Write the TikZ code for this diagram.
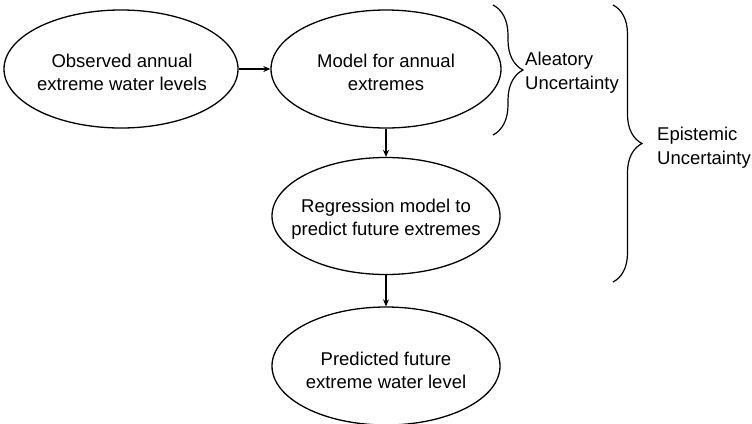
\documentclass[tikz,border=0pt]{standalone}
\usepackage{fontspec}
\setmainfont{Liberation Sans}
\usetikzlibrary{shapes.geometric,arrows.meta,decorations.pathreplacing}
\begin{document}
\begin{tikzpicture}[x=1bp,y=-1bp,
  oval/.style={ellipse,draw,line width=1.3bp,inner sep=0pt},
  txt/.style={inner sep=0pt,align=center,font=\fontsize{18.5bp}{23bp}\selectfont},
  conn/.style={line width=1.3bp,-{Stealth[length=7bp,width=6bp]}},
  lbl/.style={inner sep=0pt,align=left,anchor=west,font=\fontsize{18.5bp}{24bp}\selectfont},
  brc/.style={line width=1.2bp,decorate,decoration={brace,amplitude=#1}}]
\useasboundingbox (0,0) rectangle (752,423);
\clip (0,0) rectangle (752,423);
\fill[white] (0,0) rectangle (752,423);
\node[oval,minimum width=234bp,minimum height=118bp] (e1) at (121,69) {};
\node[oval,minimum width=230bp,minimum height=118bp] (e2) at (386,69) {};
\node[oval,minimum width=228bp,minimum height=117bp] (e3) at (386,216) {};
\node[oval,minimum width=228bp,minimum height=118bp] (e4) at (386,366) {};
\node[txt] (t1) at (122,72) {Observed annual\\extreme water levels};
\node[txt] (t2) at (386,72) {Model for annual\\extremes};
\node[txt] (t3) at (386,219) {Regression model to\\predict future extremes};
\node[txt] (t4) at (386,370) {Predicted future\\extreme water level};
\draw[conn] (e1.east) -- (e2.west);
\draw[conn] (e2.south) -- (e3.north);
\draw[conn] (e3.south) -- (e4.north);
\coordinate (b1t) at (493,5);
\coordinate (b1b) at (493,135);
\coordinate (b2t) at (613,5);
\coordinate (b2b) at (613,282);
\draw[brc=30bp] (b1t) -- (b1b);
\draw[brc=29bp] (b2t) -- (b2b);
\node[lbl] (al) at (525,73) {Aleatory\\Uncertainty};
\node[lbl] (ep) at (657,148) {Epistemic\\Uncertainty};
\end{tikzpicture}
\end{document}
